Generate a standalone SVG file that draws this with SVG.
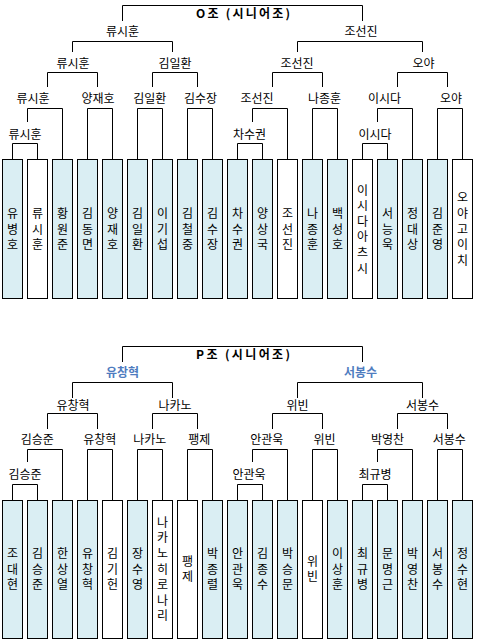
<svg xmlns="http://www.w3.org/2000/svg" width="478" height="643" viewBox="0 0 478 643">
<style>
text{font-family:"Noto Sans CJK KR","Noto Sans",sans-serif;font-size:12px;fill:#000;text-anchor:middle}
.t{font-weight:bold}
.w{font-weight:bold;fill:#4f7cbf}
.c{fill:none;stroke:#000;stroke-width:1}
.b{fill:#daeef3;stroke:#000;stroke-width:1}
.wb{fill:#fff;stroke:#000;stroke-width:1}
</style>
<rect width="478" height="643" fill="#fff"/>
<g id="connectors" class="c">
<path d="M122.5 21V5.5H362.5V21"/>
<path d="M72.5 52V41.5H172.5V52M297.5 52V41.5H422.5V52"/>
<path d="M47.5 87V72.5H97.5V87M152.5 87V72.5H197.5V87M272.5 87V72.5H322.5V87M397.5 87V72.5H447.5V87"/>
<path d="M27.5 122V108.5H62.5V159M87.5 159V108.5H112.5V159M137.5 159V108.5H162.5V159M187.5 159V108.5H212.5V159M252.5 122V108.5H287.5V159M312.5 159V108.5H337.5V159M377.5 122V108.5H412.5V159M437.5 159V108.5H462.5V159"/>
<path d="M12.5 159V143.5H37.5V159M237.5 159V143.5H262.5V159M362.5 159V143.5H387.5V159"/>
<path d="M122.5 362V346.5H362.5V362"/>
<path d="M72.5 398V382.5H172.5V398M297.5 398V382.5H422.5V398"/>
<path d="M47.5 429V413.5H97.5V429M152.5 429V413.5H197.5V429M272.5 429V413.5H322.5V429M397.5 429V413.5H447.5V429"/>
<path d="M27.5 462V449.5H62.5V500M87.5 500V449.5H112.5V500M137.5 500V449.5H162.5V500M187.5 500V449.5H212.5V500M252.5 462V449.5H287.5V500M312.5 500V449.5H337.5V500M377.5 462V449.5H412.5V500M437.5 500V449.5H462.5V500"/>
<path d="M12.5 500V484.5H37.5V500M237.5 500V484.5H262.5V500M362.5 500V484.5H387.5V500"/>
</g>
<g id="title-o"><text class="t" x="243" y="18" textLength="94" lengthAdjust="spacing">O조 (시니어조)</text></g>
<g id="o-l1a"><text x="122.5" y="35.5">류시훈</text></g>
<g id="o-l1b"><text x="361" y="35.5">조선진</text></g>
<g id="o-l2a"><text x="73" y="68">류시훈</text></g>
<g id="o-l2b"><text x="175" y="68">김일환</text></g>
<g id="o-l2c"><text x="297" y="68">조선진</text></g>
<g id="o-l2d"><text x="423.5" y="68">오야</text></g>
<g id="o-l3a"><text x="33" y="103">류시훈</text></g>
<g id="o-l3b"><text x="98" y="103">양재호</text></g>
<g id="o-l3c"><text x="149.7" y="103">김일환</text></g>
<g id="o-l3d"><text x="200.5" y="103">김수장</text></g>
<g id="o-l3e"><text x="257" y="103">조선진</text></g>
<g id="o-l3f"><text x="324.5" y="103">나종훈</text></g>
<g id="o-l3g"><text x="384.5" y="103">이시다</text></g>
<g id="o-l3h"><text x="451" y="103">오야</text></g>
<g id="o-l4a"><text x="25" y="138.5">류시훈</text></g>
<g id="o-l4b"><text x="249.5" y="138.5">차수권</text></g>
<g id="o-l4c"><text x="375" y="138.5">이시다</text></g>

<g id="o-p0"><rect class="b" x="2.5" y="159.5" width="20" height="139"/><text><tspan x="12.5" y="218">유</tspan><tspan x="12.5" y="233.5">병</tspan><tspan x="12.5" y="249">호</tspan></text></g>
<g id="o-p1"><rect class="wb" x="27.5" y="159.5" width="20" height="139"/><text><tspan x="37.5" y="218">류</tspan><tspan x="37.5" y="233.5">시</tspan><tspan x="37.5" y="249">훈</tspan></text></g>
<g id="o-p2"><rect class="b" x="52.5" y="159.5" width="20" height="139"/><text><tspan x="62.5" y="218">황</tspan><tspan x="62.5" y="233.5">원</tspan><tspan x="62.5" y="249">준</tspan></text></g>
<g id="o-p3"><rect class="b" x="77.5" y="159.5" width="20" height="139"/><text><tspan x="87.5" y="218">김</tspan><tspan x="87.5" y="233.5">동</tspan><tspan x="87.5" y="249">면</tspan></text></g>
<g id="o-p4"><rect class="b" x="102.5" y="159.5" width="20" height="139"/><text><tspan x="112.5" y="218">양</tspan><tspan x="112.5" y="233.5">재</tspan><tspan x="112.5" y="249">호</tspan></text></g>
<g id="o-p5"><rect class="b" x="127.5" y="159.5" width="20" height="139"/><text><tspan x="137.5" y="218">김</tspan><tspan x="137.5" y="233.5">일</tspan><tspan x="137.5" y="249">환</tspan></text></g>
<g id="o-p6"><rect class="b" x="152.5" y="159.5" width="20" height="139"/><text><tspan x="162.5" y="218">이</tspan><tspan x="162.5" y="233.5">기</tspan><tspan x="162.5" y="249">섭</tspan></text></g>
<g id="o-p7"><rect class="b" x="177.5" y="159.5" width="20" height="139"/><text><tspan x="187.5" y="218">김</tspan><tspan x="187.5" y="233.5">철</tspan><tspan x="187.5" y="249">중</tspan></text></g>
<g id="o-p8"><rect class="b" x="202.5" y="159.5" width="20" height="139"/><text><tspan x="212.5" y="218">김</tspan><tspan x="212.5" y="233.5">수</tspan><tspan x="212.5" y="249">장</tspan></text></g>
<g id="o-p9"><rect class="b" x="227.5" y="159.5" width="20" height="139"/><text><tspan x="237.5" y="218">차</tspan><tspan x="237.5" y="233.5">수</tspan><tspan x="237.5" y="249">권</tspan></text></g>
<g id="o-p10"><rect class="b" x="252.5" y="159.5" width="20" height="139"/><text><tspan x="262.5" y="218">양</tspan><tspan x="262.5" y="233.5">상</tspan><tspan x="262.5" y="249">국</tspan></text></g>
<g id="o-p11"><rect class="wb" x="277.5" y="159.5" width="20" height="139"/><text><tspan x="287.5" y="218">조</tspan><tspan x="287.5" y="233.5">선</tspan><tspan x="287.5" y="249">진</tspan></text></g>
<g id="o-p12"><rect class="b" x="302.5" y="159.5" width="20" height="139"/><text><tspan x="312.5" y="218">나</tspan><tspan x="312.5" y="233.5">종</tspan><tspan x="312.5" y="249">훈</tspan></text></g>
<g id="o-p13"><rect class="b" x="327.5" y="159.5" width="20" height="139"/><text><tspan x="337.5" y="218">백</tspan><tspan x="337.5" y="233.5">성</tspan><tspan x="337.5" y="249">호</tspan></text></g>
<g id="o-p14"><rect class="wb" x="352.5" y="159.5" width="20" height="139"/><text><tspan x="362.5" y="194.5">이</tspan><tspan x="362.5" y="210.1">시</tspan><tspan x="362.5" y="225.7">다</tspan><tspan x="362.5" y="241.3">아</tspan><tspan x="362.5" y="256.9">츠</tspan><tspan x="362.5" y="272.5">시</tspan></text></g>
<g id="o-p15"><rect class="b" x="377.5" y="159.5" width="20" height="139"/><text><tspan x="387.5" y="218">서</tspan><tspan x="387.5" y="233.5">능</tspan><tspan x="387.5" y="249">욱</tspan></text></g>
<g id="o-p16"><rect class="b" x="402.5" y="159.5" width="20" height="139"/><text><tspan x="412.5" y="218">정</tspan><tspan x="412.5" y="233.5">대</tspan><tspan x="412.5" y="249">상</tspan></text></g>
<g id="o-p17"><rect class="b" x="427.5" y="159.5" width="20" height="139"/><text><tspan x="437.5" y="218">김</tspan><tspan x="437.5" y="233.5">준</tspan><tspan x="437.5" y="249">영</tspan></text></g>
<g id="o-p18"><rect class="wb" x="452.5" y="159.5" width="20" height="139"/><text><tspan x="462.5" y="202.3">오</tspan><tspan x="462.5" y="217.9">야</tspan><tspan x="462.5" y="233.5">고</tspan><tspan x="462.5" y="249.1">이</tspan><tspan x="462.5" y="264.7">치</tspan></text></g>

<g id="title-p"><text class="t" x="243" y="359" textLength="94" lengthAdjust="spacing">P조 (시니어조)</text></g>
<g id="p-l1a"><text class="w" x="122.5" y="376.5">유창혁</text></g>
<g id="p-l1b"><text class="w" x="360.5" y="376.5">서봉수</text></g>
<g id="p-l2a"><text x="73" y="409.5">유창혁</text></g>
<g id="p-l2b"><text x="175" y="409.5">나카노</text></g>
<g id="p-l2c"><text x="297.5" y="409.5">위빈</text></g>
<g id="p-l2d"><text x="422.5" y="409.5">서봉수</text></g>
<g id="p-l3a"><text x="37.3" y="444">김승준</text></g>
<g id="p-l3b"><text x="99.7" y="444">유창혁</text></g>
<g id="p-l3c"><text x="149.7" y="444">나카노</text></g>
<g id="p-l3d"><text x="199.2" y="444">팽제</text></g>
<g id="p-l3e"><text x="266.8" y="444">안관욱</text></g>
<g id="p-l3f"><text x="324.6" y="444">위빈</text></g>
<g id="p-l3g"><text x="387.6" y="444">박영찬</text></g>
<g id="p-l3h"><text x="449.3" y="444">서봉수</text></g>
<g id="p-l4a"><text x="25" y="479">김승준</text></g>
<g id="p-l4b"><text x="249" y="479">안관욱</text></g>
<g id="p-l4c"><text x="375" y="479">최규병</text></g>

<g id="p-p0"><rect class="b" x="2.5" y="500.5" width="20" height="138"/><text><tspan x="12.5" y="558">조</tspan><tspan x="12.5" y="573.5">대</tspan><tspan x="12.5" y="589">현</tspan></text></g>
<g id="p-p1"><rect class="b" x="27.5" y="500.5" width="20" height="138"/><text><tspan x="37.5" y="558">김</tspan><tspan x="37.5" y="573.5">승</tspan><tspan x="37.5" y="589">준</tspan></text></g>
<g id="p-p2"><rect class="b" x="52.5" y="500.5" width="20" height="138"/><text><tspan x="62.5" y="558">한</tspan><tspan x="62.5" y="573.5">상</tspan><tspan x="62.5" y="589">열</tspan></text></g>
<g id="p-p3"><rect class="b" x="77.5" y="500.5" width="20" height="138"/><text><tspan x="87.5" y="558">유</tspan><tspan x="87.5" y="573.5">창</tspan><tspan x="87.5" y="589">혁</tspan></text></g>
<g id="p-p4"><rect class="wb" x="102.5" y="500.5" width="20" height="138"/><text><tspan x="112.5" y="558">김</tspan><tspan x="112.5" y="573.5">기</tspan><tspan x="112.5" y="589">헌</tspan></text></g>
<g id="p-p5"><rect class="b" x="127.5" y="500.5" width="20" height="138"/><text><tspan x="137.5" y="558">장</tspan><tspan x="137.5" y="573.5">수</tspan><tspan x="137.5" y="589">영</tspan></text></g>
<g id="p-p6"><rect class="wb" x="152.5" y="500.5" width="20" height="138"/><text><tspan x="162.5" y="526.7">나</tspan><tspan x="162.5" y="542.3">카</tspan><tspan x="162.5" y="557.9">노</tspan><tspan x="162.5" y="573.5">히</tspan><tspan x="162.5" y="589.1">로</tspan><tspan x="162.5" y="604.7">나</tspan><tspan x="162.5" y="620.3">리</tspan></text></g>
<g id="p-p7"><rect class="wb" x="177.5" y="500.5" width="20" height="138"/><text><tspan x="187.5" y="565.7">팽</tspan><tspan x="187.5" y="581.3">제</tspan></text></g>
<g id="p-p8"><rect class="b" x="202.5" y="500.5" width="20" height="138"/><text><tspan x="212.5" y="558">박</tspan><tspan x="212.5" y="573.5">종</tspan><tspan x="212.5" y="589">렬</tspan></text></g>
<g id="p-p9"><rect class="b" x="227.5" y="500.5" width="20" height="138"/><text><tspan x="237.5" y="558">안</tspan><tspan x="237.5" y="573.5">관</tspan><tspan x="237.5" y="589">욱</tspan></text></g>
<g id="p-p10"><rect class="b" x="252.5" y="500.5" width="20" height="138"/><text><tspan x="262.5" y="558">김</tspan><tspan x="262.5" y="573.5">종</tspan><tspan x="262.5" y="589">수</tspan></text></g>
<g id="p-p11"><rect class="b" x="277.5" y="500.5" width="20" height="138"/><text><tspan x="287.5" y="558">박</tspan><tspan x="287.5" y="573.5">승</tspan><tspan x="287.5" y="589">문</tspan></text></g>
<g id="p-p12"><rect class="wb" x="302.5" y="500.5" width="20" height="138"/><text><tspan x="312.5" y="565.7">위</tspan><tspan x="312.5" y="581.3">빈</tspan></text></g>
<g id="p-p13"><rect class="b" x="327.5" y="500.5" width="20" height="138"/><text><tspan x="337.5" y="558">이</tspan><tspan x="337.5" y="573.5">상</tspan><tspan x="337.5" y="589">훈</tspan></text></g>
<g id="p-p14"><rect class="b" x="352.5" y="500.5" width="20" height="138"/><text><tspan x="362.5" y="558">최</tspan><tspan x="362.5" y="573.5">규</tspan><tspan x="362.5" y="589">병</tspan></text></g>
<g id="p-p15"><rect class="b" x="377.5" y="500.5" width="20" height="138"/><text><tspan x="387.5" y="558">문</tspan><tspan x="387.5" y="573.5">명</tspan><tspan x="387.5" y="589">근</tspan></text></g>
<g id="p-p16"><rect class="b" x="402.5" y="500.5" width="20" height="138"/><text><tspan x="412.5" y="558">박</tspan><tspan x="412.5" y="573.5">영</tspan><tspan x="412.5" y="589">찬</tspan></text></g>
<g id="p-p17"><rect class="b" x="427.5" y="500.5" width="20" height="138"/><text><tspan x="437.5" y="558">서</tspan><tspan x="437.5" y="573.5">봉</tspan><tspan x="437.5" y="589">수</tspan></text></g>
<g id="p-p18"><rect class="b" x="452.5" y="500.5" width="20" height="138"/><text><tspan x="462.5" y="558">정</tspan><tspan x="462.5" y="573.5">수</tspan><tspan x="462.5" y="589">현</tspan></text></g>
</svg>
